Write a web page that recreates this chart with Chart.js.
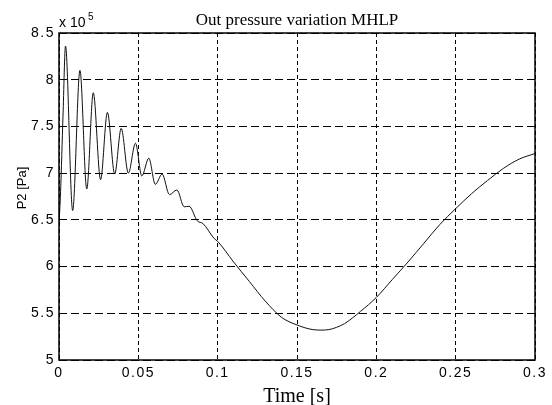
<!DOCTYPE html>
<html>
<head>
<meta charset="utf-8">
<script src="https://cdn.jsdelivr.net/npm/chart.js@4"></script>
<style>
  html, body { margin: 0; padding: 0; background: #fff; }
  #wrap { width: 552px; height: 405px; }
</style>
</head>
<body>
<div id="wrap"><canvas id="p2chart" width="552" height="405"></canvas></div>
<script>
// time [s] and outlet pressure P2 [x 1e5 Pa]
var timeVals = [0, 0.001, 0.0025, 0.0041, 0.0086, 0.0132, 0.0175, 0.0216, 0.0262, 0.0305,
  0.0351, 0.0392, 0.0437, 0.0482, 0.0522, 0.0566, 0.0607, 0.065, 0.0696, 0.0743,
  0.0789, 0.082, 0.0871, 0.0908, 0.0978, 0.1, 0.11, 0.12, 0.13, 0.14,
  0.145, 0.15, 0.155, 0.16, 0.165, 0.17, 0.175, 0.18, 0.19, 0.2,
  0.21, 0.22, 0.23, 0.24, 0.25, 0.26, 0.27, 0.28, 0.29, 0.3];
var pressureVals = [6.45, 6.8, 7.6, 8.36, 6.60, 8.10, 6.83, 7.86, 6.93, 7.65,
  6.99, 7.48, 7.00, 7.32, 6.97, 7.16, 6.88, 6.99, 6.77, 6.82,
  6.64, 6.645, 6.49, 6.46, 6.30, 6.27, 6.05, 5.84, 5.63, 5.46,
  5.41, 5.375, 5.345, 5.325, 5.32, 5.325, 5.35, 5.39, 5.52, 5.67,
  5.86, 6.05, 6.25, 6.45, 6.62, 6.78, 6.92, 7.05, 7.15, 7.21];
var xTicks = [0, 0.05, 0.1, 0.15, 0.2, 0.25, 0.3];
var yTicks = [5, 5.5, 6, 6.5, 7, 7.5, 8, 8.5];

var points = timeVals.map(function (t, i) { return { x: t, y: pressureVals[i] }; });

var matlabLook = {
  id: 'matlabLook',
  beforeLayout: function (chart) { chart.ctx.letterSpacing = '1.5px'; },
  beforeDraw: function (chart) {
    var ctx = chart.ctx;
    ctx.save();
    ctx.fillStyle = '#fff';
    ctx.fillRect(0, 0, chart.width, chart.height);
    ctx.restore();
    ctx.letterSpacing = '1.5px';
  },
  afterDraw: function (chart) {
    var ctx = chart.ctx, a = chart.chartArea;
    ctx.save();
    ctx.letterSpacing = '0px';
    ctx.strokeStyle = '#000';
    ctx.lineWidth = 1.5;
    ctx.strokeRect(a.left, a.top, a.right - a.left, a.bottom - a.top);

    ctx.fillStyle = '#000';
    ctx.textAlign = 'center';
    ctx.textBaseline = 'alphabetic';
    ctx.font = '17px "Liberation Serif", "Times New Roman", serif';
    ctx.fillText('Out pressure variation MHLP', (a.left + a.right) / 2, 25);

    ctx.font = '20px "Liberation Serif", "Times New Roman", serif';
    ctx.fillText('Time [s]', (a.left + a.right) / 2, 402);

    ctx.textAlign = 'left';
    ctx.font = '14px "Liberation Sans", Arial, sans-serif';
    ctx.fillText('x 10', 59, 27);
    ctx.font = '10px "Liberation Sans", Arial, sans-serif';
    ctx.fillText('5', 88, 20);

    ctx.translate(26, 188);
    ctx.rotate(-Math.PI / 2);
    ctx.textAlign = 'center';
    ctx.font = '13px "Liberation Sans", Arial, sans-serif';
    ctx.fillText('P2 [Pa]', 0, 0);
    ctx.restore();
  }
};

var ctx = document.getElementById('p2chart');
var p2Chart = new Chart(ctx, {
  type: 'line',
  data: {
    datasets: [{
      data: points,
      borderColor: '#111',
      borderWidth: 1,
      pointRadius: 0,
      fill: false,
      cubicInterpolationMode: 'monotone'
    }]
  },
  options: {
    responsive: false,
    animation: false,
    layout: { padding: { top: 33, right: 9, left: 0, bottom: 0 } },
    plugins: { legend: { display: false }, tooltip: { enabled: false }, title: { display: false } },
    scales: {
      x: {
        type: 'linear',
        min: 0,
        max: 0.3,
        afterFit: function (s) { s.height = 45; },
        afterBuildTicks: function (s) { s.ticks = xTicks.map(function (v) { return { value: v }; }); },
        grid: { color: '#000', lineWidth: 1, drawTicks: false },
        border: { display: false, dash: [4, 3] },
        ticks: {
          padding: 5,
          color: '#000',
          maxRotation: 0,
          font: { family: '"Liberation Sans", Arial, sans-serif', size: 14 },
          callback: function (v) { return String(Number(v.toFixed(2))); }
        }
      },
      y: {
        type: 'linear',
        min: 5,
        max: 8.5,
        afterFit: function (s) { s.width = 59; },
        afterBuildTicks: function (s) { s.ticks = yTicks.map(function (v) { return { value: v }; }); },
        grid: { color: '#000', lineWidth: 1, drawTicks: false },
        border: { display: false, dash: [8, 4] },
        ticks: {
          padding: 4,
          color: '#000',
          font: { family: '"Liberation Sans", Arial, sans-serif', size: 14 },
          callback: function (v) { return String(Number(v.toFixed(1))); }
        }
      }
    }
  },
  plugins: [matlabLook]
});
</script>
</body>
</html>
